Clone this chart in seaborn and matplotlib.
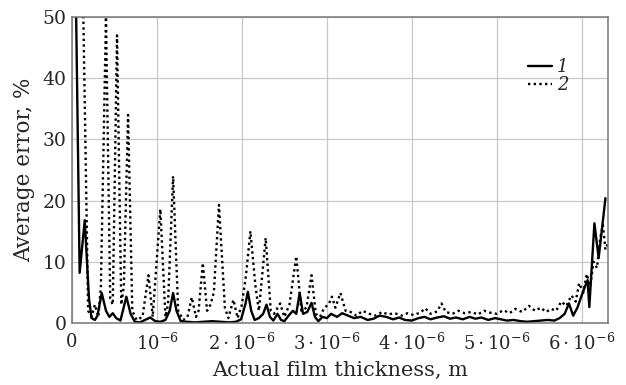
import numpy as np
import pandas as pd
import matplotlib
matplotlib.use("Agg")
import matplotlib.pyplot as plt
import seaborn as sns

# ---- data (x in micrometres, y in %) ----
x1_um = [0.00, 0.09, 0.15, 0.20, 0.23, 0.27, 0.30, 0.35, 0.40, 0.44, 0.48, 0.52, 0.57, 0.64, 0.69,
         0.74, 0.80, 0.86, 0.92, 0.98, 1.04, 1.10, 1.15, 1.19, 1.23, 1.28, 1.35, 1.45, 1.55, 1.65,
         1.75, 1.85, 1.93, 1.99, 2.04, 2.07, 2.11, 2.15, 2.20, 2.25, 2.29, 2.33, 2.37, 2.42, 2.46,
         2.50, 2.55, 2.60, 2.64, 2.68, 2.72, 2.77, 2.82, 2.86, 2.90, 2.95, 3.00, 3.05, 3.12, 3.18,
         3.25, 3.32, 3.40, 3.48, 3.55, 3.62, 3.70, 3.78, 3.85, 3.92, 4.00, 4.08, 4.15, 4.22, 4.30,
         4.38, 4.45, 4.52, 4.60, 4.68, 4.75, 4.82, 4.90, 4.98, 5.05, 5.12, 5.20, 5.28, 5.36, 5.44,
         5.52, 5.60, 5.68, 5.74, 5.80, 5.85, 5.90, 5.95, 6.00, 6.04, 6.07, 6.09, 6.15, 6.20, 6.28]
y1 = [100, 8.2, 16.8, 4.0, 0.8, 0.5, 1.2, 4.9, 2.0, 1.0, 1.6, 0.8, 0.4, 4.3, 1.5,
      0.2, 0.1, 0.5, 0.9, 0.3, 0.2, 0.5, 2.0, 4.9, 2.0, 0.3, 0.2, 0.1, 0.2, 0.3,
      0.2, 0.1, 0.2, 0.6, 3.0, 5.1, 2.0, 0.5, 0.8, 1.5, 3.0, 1.0, 0.4, 1.5, 0.5,
      0.3, 1.2, 2.0, 1.5, 4.9, 1.5, 1.8, 3.3, 1.0, 0.3, 1.0, 0.8, 1.5, 1.0, 1.6,
      1.2, 0.8, 1.0, 0.5, 0.7, 1.2, 1.0, 0.6, 0.9, 0.5, 0.4, 0.8, 1.0, 0.6, 0.9,
      1.1, 0.7, 0.9, 0.6, 1.0, 0.7, 0.9, 0.5, 0.8, 0.6, 0.4, 0.5, 0.3, 0.2, 0.3,
      0.4, 0.5, 0.4, 0.8, 1.5, 3.2, 1.2, 2.5, 4.5, 6.0, 7.0, 2.6, 16.3, 10.6, 20.4]

x2_um = [0.11, 0.19, 0.23, 0.27, 0.31, 0.34, 0.40, 0.45, 0.48, 0.53, 0.58, 0.61, 0.66, 0.71, 0.76,
         0.83, 0.90, 0.95, 1.04, 1.10, 1.13, 1.19, 1.25, 1.31, 1.36, 1.41, 1.46, 1.49, 1.54, 1.59,
         1.63, 1.67, 1.73, 1.80, 1.84, 1.90, 1.95, 2.00, 2.05, 2.10, 2.16, 2.20, 2.28, 2.34, 2.38,
         2.45, 2.50, 2.56, 2.64, 2.70, 2.76, 2.82, 2.87, 2.92, 2.97, 3.02, 3.06, 3.10, 3.16, 3.22,
         3.28, 3.35, 3.42, 3.50, 3.58, 3.65, 3.72, 3.80, 3.88, 3.95, 4.02, 4.10, 4.16, 4.22, 4.30,
         4.35, 4.40, 4.48, 4.55, 4.62, 4.70, 4.78, 4.85, 4.92, 5.00, 5.08, 5.15, 5.22, 5.30, 5.38,
         5.45, 5.52, 5.58, 5.64, 5.70, 5.76, 5.82, 5.88, 5.93, 5.97, 6.02, 6.06, 6.10, 6.14, 6.18,
         6.22, 6.25, 6.28, 6.31]
y2 = [70, 2.0, 1.0, 3.0, 1.0, 6.0, 50, 4.0, 3.0, 47, 3.0, 6.0, 34, 2.0, 0.5,
      1.0, 7.8, 1.0, 18.6, 1.0, 3.0, 24, 2.0, 0.5, 1.0, 4.2, 1.0, 2.0, 9.8, 2.0,
      3.0, 5.0, 19.3, 2.5, 0.8, 3.8, 0.8, 3.0, 8.0, 15.0, 6.0, 2.0, 13.9, 2.0, 1.5,
      3.2, 1.0, 3.0, 10.9, 2.0, 2.5, 7.8, 1.5, 1.0, 2.5, 3.0, 4.3, 2.5, 4.9, 2.0,
      1.8, 1.2, 2.0, 1.5, 1.2, 1.8, 1.4, 1.6, 1.2, 1.6, 1.3, 1.7, 2.4, 1.5, 1.9,
      3.2, 1.8, 1.5, 2.0, 1.6, 1.8, 1.4, 2.0, 1.7, 1.5, 2.1, 1.6, 2.3, 1.8, 2.8,
      2.0, 2.5, 1.8, 2.3, 2.0, 3.5, 2.8, 4.5, 3.5, 6.5, 5.0, 8.0, 6.0, 10.0, 9.0,
      14.0, 16.0, 12.0, 13.0]

series_labels = ["1", "2"]
x_ticks_um = [0, 1, 2, 3, 4, 5, 6]
x_tick_labels = ["0", r"$10^{-6}$", r"$2\cdot10^{-6}$", r"$3\cdot10^{-6}$",
                 r"$4\cdot10^{-6}$", r"$5\cdot10^{-6}$", r"$6\cdot10^{-6}$"]
y_ticks = [0, 10, 20, 30, 40, 50]

df1 = pd.DataFrame({"x": np.array(x1_um) * 1e-6, "y": y1})
df2 = pd.DataFrame({"x": np.array(x2_um) * 1e-6, "y": y2})

sns.set_style("white")
plt.rcParams["font.family"] = ["DejaVu Serif"]
plt.rcParams["mathtext.fontset"] = "dejavuserif"

fig = plt.figure(figsize=(6.26, 3.85), dpi=100)
ax = fig.add_axes([72 / 626, 62 / 385, 536 / 626, 306 / 385])

sns.lineplot(data=df1, x="x", y="y", ax=ax, color="black", lw=1.7,
             estimator=None, sort=False, label=series_labels[0])
sns.lineplot(data=df2, x="x", y="y", ax=ax, color="black", lw=1.7,
             estimator=None, sort=False, label=series_labels[1], linestyle=(0, (1, 1.4)))

ax.set_xlim(0, 6.31e-6)
ax.set_ylim(0, 50)
ax.set_xticks(np.array(x_ticks_um) * 1e-6)
ax.set_xticklabels(x_tick_labels)
ax.set_yticks(y_ticks)
ax.grid(True, color="#c8c8c8", lw=0.9)
ax.set_axisbelow(True)
ax.tick_params(direction="in", length=4, width=0.8, color="#555555", pad=4)
ax.tick_params(axis="x", labelsize=13, pad=7)
ax.tick_params(axis="y", labelsize=13.5, pad=4)
for s in ax.spines.values():
    s.set_color("#777777")
    s.set_linewidth(1.1)

ax.set_xlabel("Actual film thickness, m", fontsize=15, labelpad=5)
ax.set_ylabel("Average error, %", fontsize=15.5, labelpad=5)

leg = ax.legend(loc="upper right", bbox_to_anchor=(0.94, 0.89), frameon=False,
                handlelength=1.3, handletextpad=0.3, labelspacing=0.0,
                prop={"style": "italic", "size": 13, "family": "DejaVu Serif"},
                borderaxespad=0)

fig.savefig("out.png", dpi=100)
